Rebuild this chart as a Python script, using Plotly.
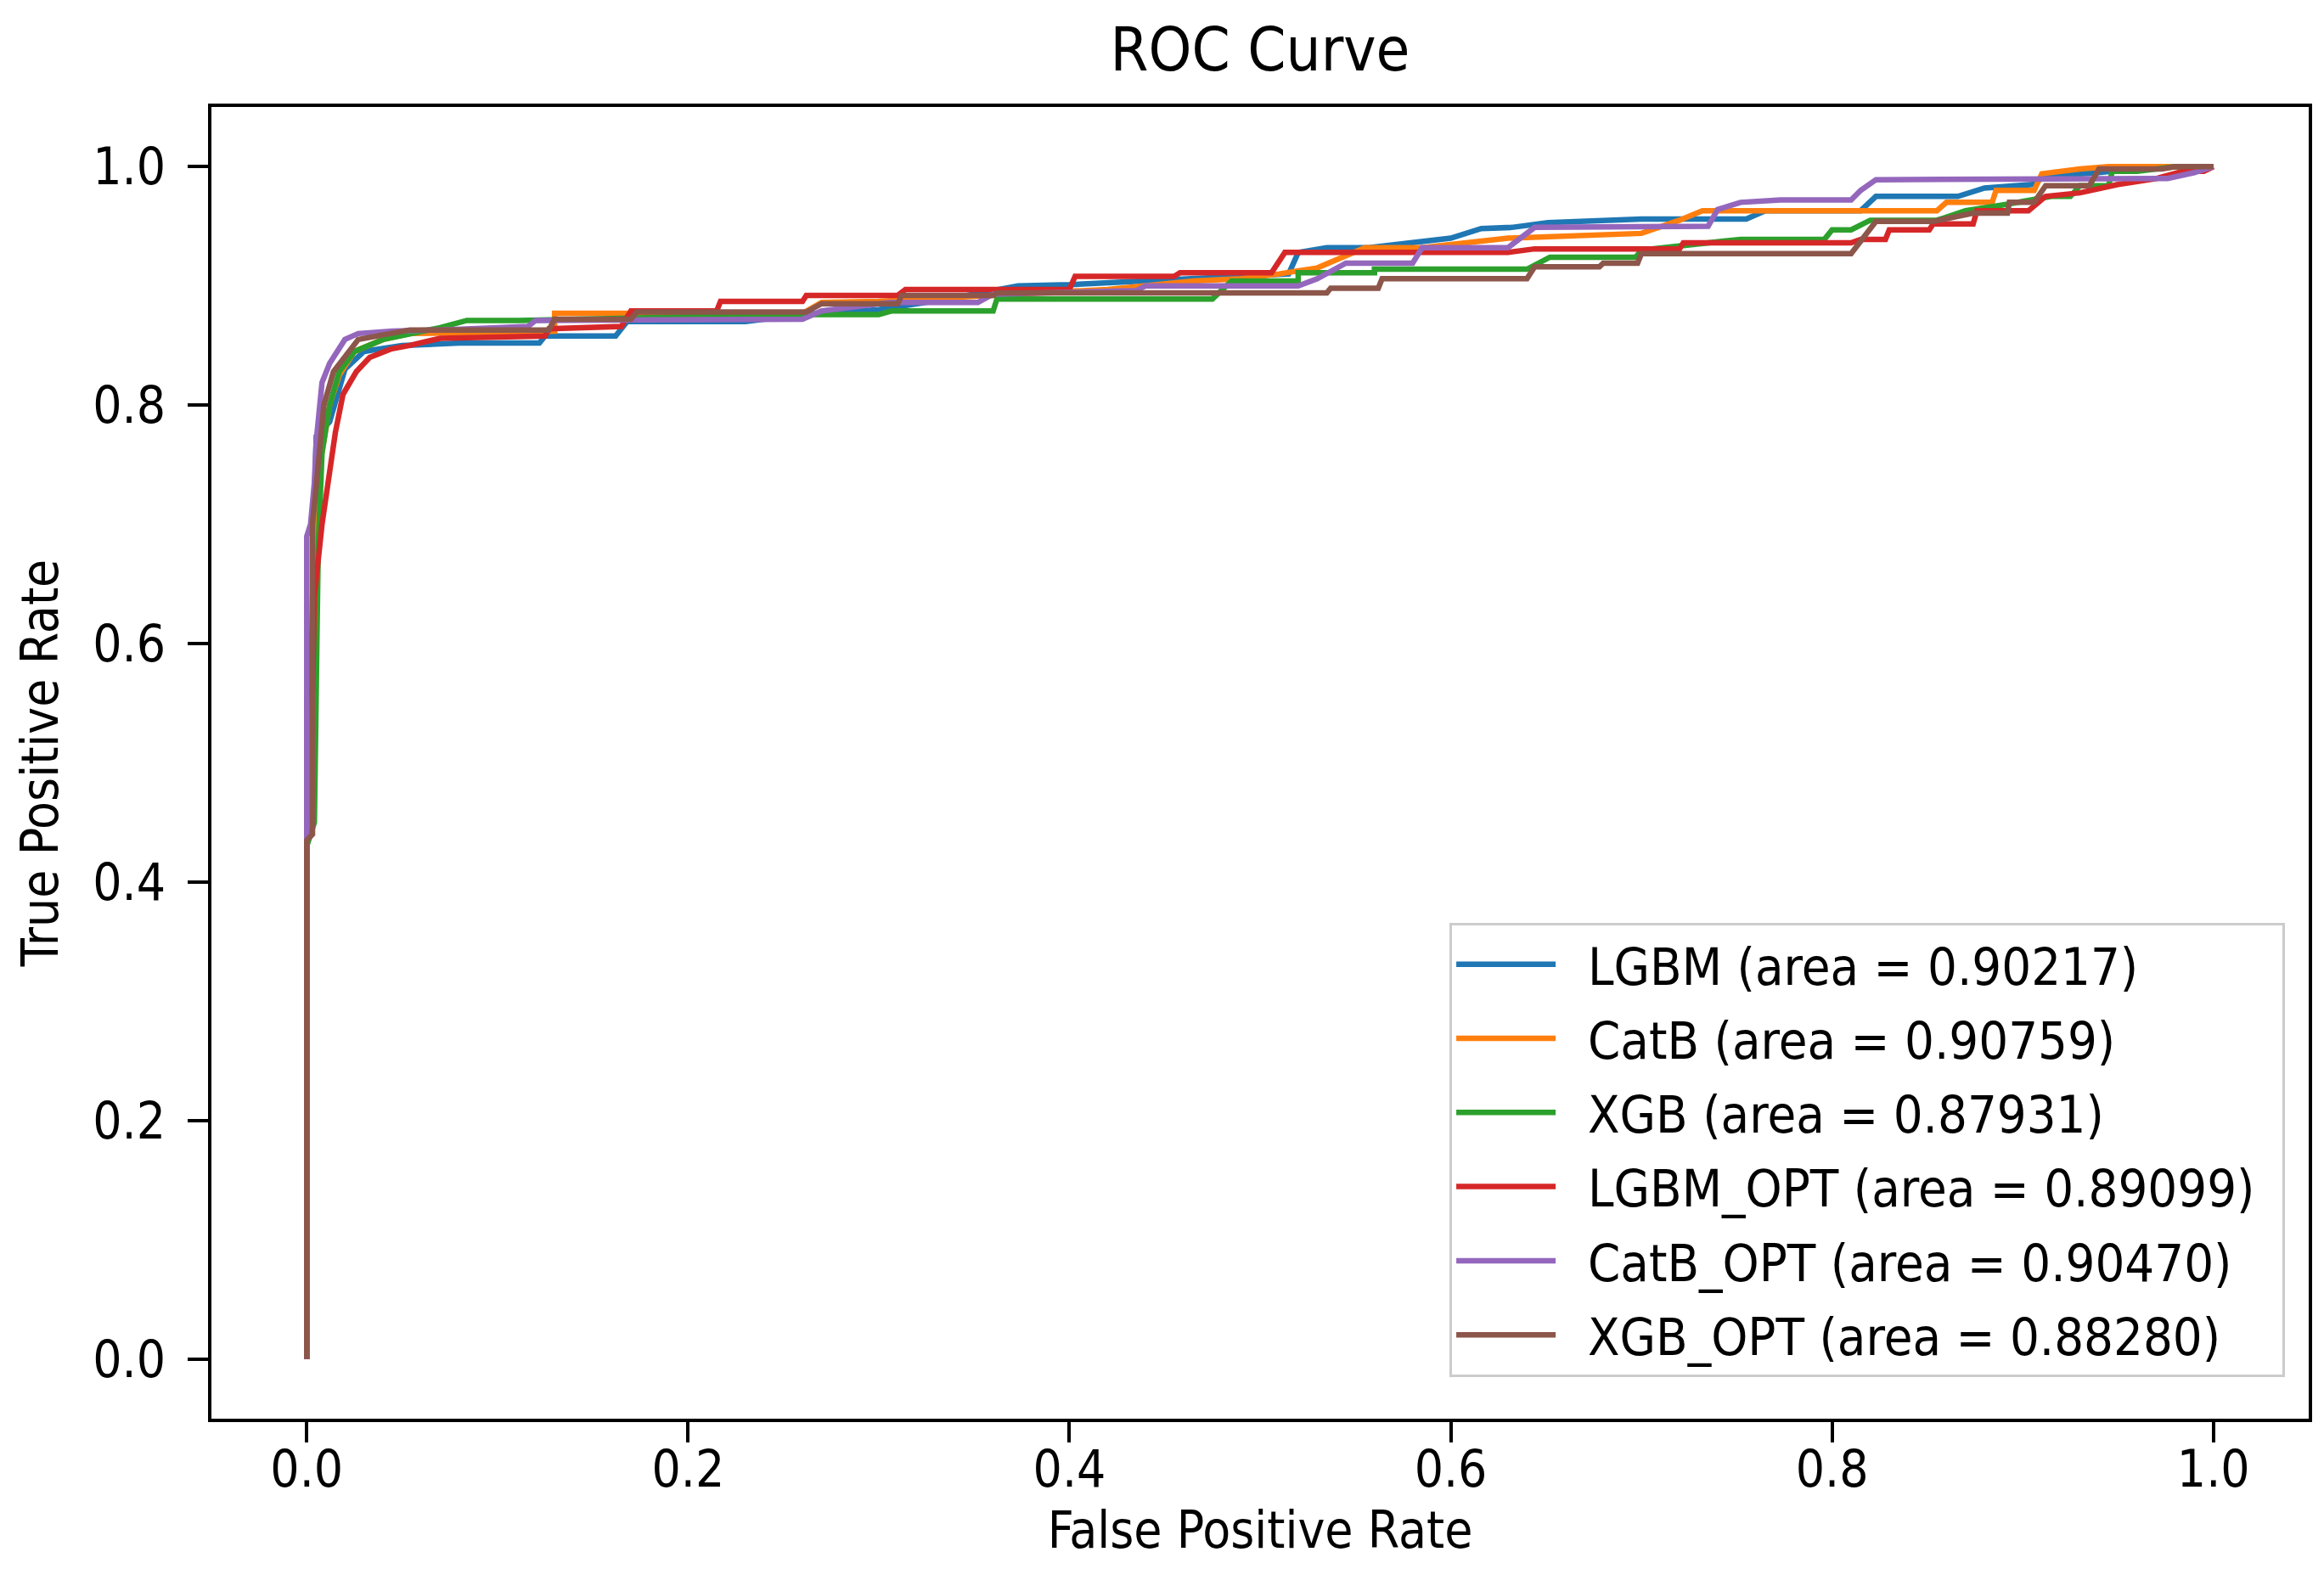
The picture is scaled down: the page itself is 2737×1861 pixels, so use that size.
import plotly.graph_objects as go

# ROC points (fpr, tpr)
lgbm = [(0, 0), (0, 0.50), (0.002, 0.55), (0.003, 0.65), (0.004, 0.72), (0.005, 0.774),
        (0.012, 0.786), (0.02, 0.83), (0.03, 0.845), (0.05, 0.85), (0.08, 0.852),
        (0.122, 0.852), (0.125, 0.858), (0.162, 0.858), (0.168, 0.870), (0.23, 0.870),
        (0.26, 0.876), (0.30, 0.880), (0.34, 0.890), (0.373, 0.900), (0.40, 0.901),
        (0.45, 0.905), (0.515, 0.910), (0.52, 0.928), (0.535, 0.932), (0.557, 0.932),
        (0.60, 0.940), (0.616, 0.948), (0.632, 0.949), (0.651, 0.953), (0.70, 0.956),
        (0.755, 0.956), (0.765, 0.963), (0.815, 0.963), (0.823, 0.975), (0.866, 0.975),
        (0.88, 0.982), (0.905, 0.985), (0.912, 0.992), (0.94, 0.995), (0.97, 1.0), (1.0, 1.0)]

catb = [(0, 0), (0, 0.45), (0.003, 0.55), (0.004, 0.68), (0.007, 0.75), (0.012, 0.80),
        (0.017, 0.825), (0.025, 0.845), (0.04, 0.855), (0.054, 0.86), (0.13, 0.862),
        (0.13, 0.877), (0.26, 0.877), (0.27, 0.886), (0.30, 0.887), (0.36, 0.892),
        (0.42, 0.897), (0.465, 0.904), (0.49, 0.906), (0.51, 0.91), (0.53, 0.915),
        (0.555, 0.932), (0.585, 0.932), (0.63, 0.94), (0.70, 0.944), (0.72, 0.955),
        (0.732, 0.963), (0.855, 0.963), (0.86, 0.970), (0.884, 0.970), (0.886, 0.98),
        (0.906, 0.98), (0.91, 0.994), (0.93, 0.998), (0.945, 1.0), (1.0, 1.0)]

xgb = [(0, 0), (0, 0.43), (0.004, 0.45), (0.005, 0.604), (0.006, 0.68), (0.008, 0.76),
       (0.012, 0.80), (0.017, 0.828), (0.025, 0.845), (0.04, 0.855), (0.07, 0.865),
       (0.084, 0.871), (0.111, 0.871), (0.26, 0.876), (0.30, 0.876), (0.307, 0.879),
       (0.36, 0.879), (0.362, 0.889), (0.475, 0.889), (0.485, 0.904), (0.52, 0.904),
       (0.52, 0.911), (0.56, 0.911), (0.56, 0.914), (0.64, 0.914), (0.652, 0.924),
       (0.697, 0.924), (0.70, 0.93), (0.752, 0.939), (0.796, 0.939), (0.80, 0.947),
       (0.81, 0.947), (0.82, 0.955), (0.855, 0.955), (0.87, 0.963), (0.89, 0.968),
       (0.915, 0.975), (0.925, 0.975), (0.93, 0.984), (0.945, 0.984), (0.947, 0.996),
       (0.96, 0.996), (0.98, 1.0), (1.0, 1.0)]

lgbm_opt = [(0, 0), (0, 0.555), (0.003, 0.56), (0.004, 0.64), (0.008, 0.70), (0.011, 0.734),
            (0.015, 0.777), (0.019, 0.809), (0.026, 0.828), (0.033, 0.84), (0.044, 0.847),
            (0.054, 0.850), (0.07, 0.856), (0.125, 0.858), (0.127, 0.864), (0.165, 0.866),
            (0.17, 0.879), (0.215, 0.879), (0.217, 0.887), (0.26, 0.887), (0.262, 0.892),
            (0.31, 0.892), (0.314, 0.897), (0.40, 0.897), (0.403, 0.908), (0.455, 0.908),
            (0.458, 0.911), (0.506, 0.911), (0.513, 0.928), (0.63, 0.928), (0.644, 0.931),
            (0.72, 0.931), (0.722, 0.936), (0.81, 0.936), (0.815, 0.939), (0.828, 0.939),
            (0.83, 0.947), (0.851, 0.947), (0.853, 0.952), (0.874, 0.952), (0.876, 0.963),
            (0.903, 0.963), (0.912, 0.975), (0.93, 0.978), (0.95, 0.985), (0.97, 0.99),
            (0.984, 0.996), (0.995, 0.996), (1.0, 1.0)]

catb_opt = [(0, 0), (0, 0.69), (0.002, 0.70), (0.004, 0.735), (0.005, 0.77), (0.007, 0.80),
            (0.008, 0.819), (0.012, 0.835), (0.02, 0.855), (0.027, 0.86), (0.045, 0.862),
            (0.07, 0.863), (0.116, 0.866), (0.12, 0.871), (0.195, 0.871), (0.26, 0.872),
            (0.27, 0.879), (0.306, 0.886), (0.352, 0.886), (0.36, 0.893), (0.435, 0.896),
            (0.44, 0.900), (0.52, 0.900), (0.53, 0.906), (0.545, 0.919), (0.58, 0.919),
            (0.585, 0.932), (0.63, 0.932), (0.644, 0.949), (0.735, 0.95), (0.74, 0.964),
            (0.752, 0.97), (0.773, 0.972), (0.81, 0.972), (0.815, 0.98), (0.823, 0.989),
            (0.976, 0.99), (0.99, 0.995), (1.0, 1.0)]

xgb_opt = [(0, 0), (0, 0.435), (0.003, 0.44), (0.003, 0.70), (0.006, 0.75), (0.009, 0.80),
           (0.014, 0.828), (0.027, 0.855), (0.054, 0.863), (0.127, 0.863), (0.13, 0.872),
           (0.17, 0.872), (0.173, 0.878), (0.262, 0.878), (0.27, 0.885), (0.31, 0.885),
           (0.312, 0.892), (0.36, 0.892), (0.362, 0.894), (0.535, 0.894), (0.537, 0.898),
           (0.562, 0.898), (0.564, 0.906), (0.64, 0.906), (0.644, 0.916), (0.678, 0.916),
           (0.68, 0.919), (0.698, 0.919), (0.70, 0.927), (0.81, 0.927), (0.823, 0.954),
           (0.853, 0.954), (0.874, 0.961), (0.892, 0.961), (0.893, 0.97), (0.906, 0.97),
           (0.912, 0.984), (0.935, 0.984), (0.94, 0.998), (0.973, 0.998), (0.98, 1.0),
           (1.0, 1.0)]

names = ["LGBM", "CatB", "XGB", "LGBM_OPT", "CatB_OPT", "XGB_OPT"]
areas = ["0.90217", "0.90759", "0.87931", "0.89099", "0.90470", "0.88280"]
curves = [lgbm, catb, xgb, lgbm_opt, catb_opt, xgb_opt]
colors = ["#1f77b4", "#ff7f0e", "#2ca02c", "#d62728", "#9467bd", "#8c564b"]

tick_vals = [0.0, 0.2, 0.4, 0.6, 0.8, 1.0]
tick_text = ["0.0", "0.2", "0.4", "0.6", "0.8", "1.0"]

FONT = "DejaVu Sans Condensed, DejaVu Sans, sans-serif"

fig = go.Figure()
for name, area, pts, col in zip(names, areas, curves, colors):
    fig.add_trace(go.Scatter(
        x=[p[0] for p in pts], y=[p[1] for p in pts],
        mode="lines", line=dict(color=col, width=6.5),
        name=f"\u2002\u200a{name} (area = {area})\u2002", legendgroup=name,
    ))

axis_common = dict(
    range=[-0.05, 1.05], tickvals=tick_vals, ticktext=tick_text,
    showgrid=False, zeroline=False, showline=True, linecolor="black", linewidth=4,
    mirror=True, ticks="outside", ticklen=24, tickwidth=4, tickcolor="black",
    tickfont=dict(size=60, color="black", family=FONT),
)

fig.update_layout(
    width=2737, height=1861,
    margin=dict(l=241, r=26, t=118, b=198),
    paper_bgcolor="white", plot_bgcolor="white",
    font=dict(family=FONT, color="black", size=60),
    title=dict(text="ROC Curve", x=0.5, xref="paper", y=1 - 50 / 1861, yref="container",
               xanchor="center", yanchor="middle", font=dict(size=72, family=FONT, color="black")),
    xaxis=dict(axis_common, ticklabelstandoff=-20,
               title=dict(text="False Positive Rate", standoff=18,
                          font=dict(size=60, family=FONT, color="black"))),
    yaxis=dict(axis_common, ticklabelstandoff=14,
               title=dict(text="True Positive Rate", standoff=22,
                          font=dict(size=60, family=FONT, color="black"))),
    legend=dict(
        x=0.9887, y=0.032, xanchor="right", yanchor="bottom",
        bgcolor="rgba(255,255,255,0.8)", bordercolor="#cccccc", borderwidth=3,
        font=dict(size=61, family=FONT, color="black"),
        traceorder="grouped", tracegroupgap=5, itemwidth=117,
    ),
)

fig.write_html("out.html")
